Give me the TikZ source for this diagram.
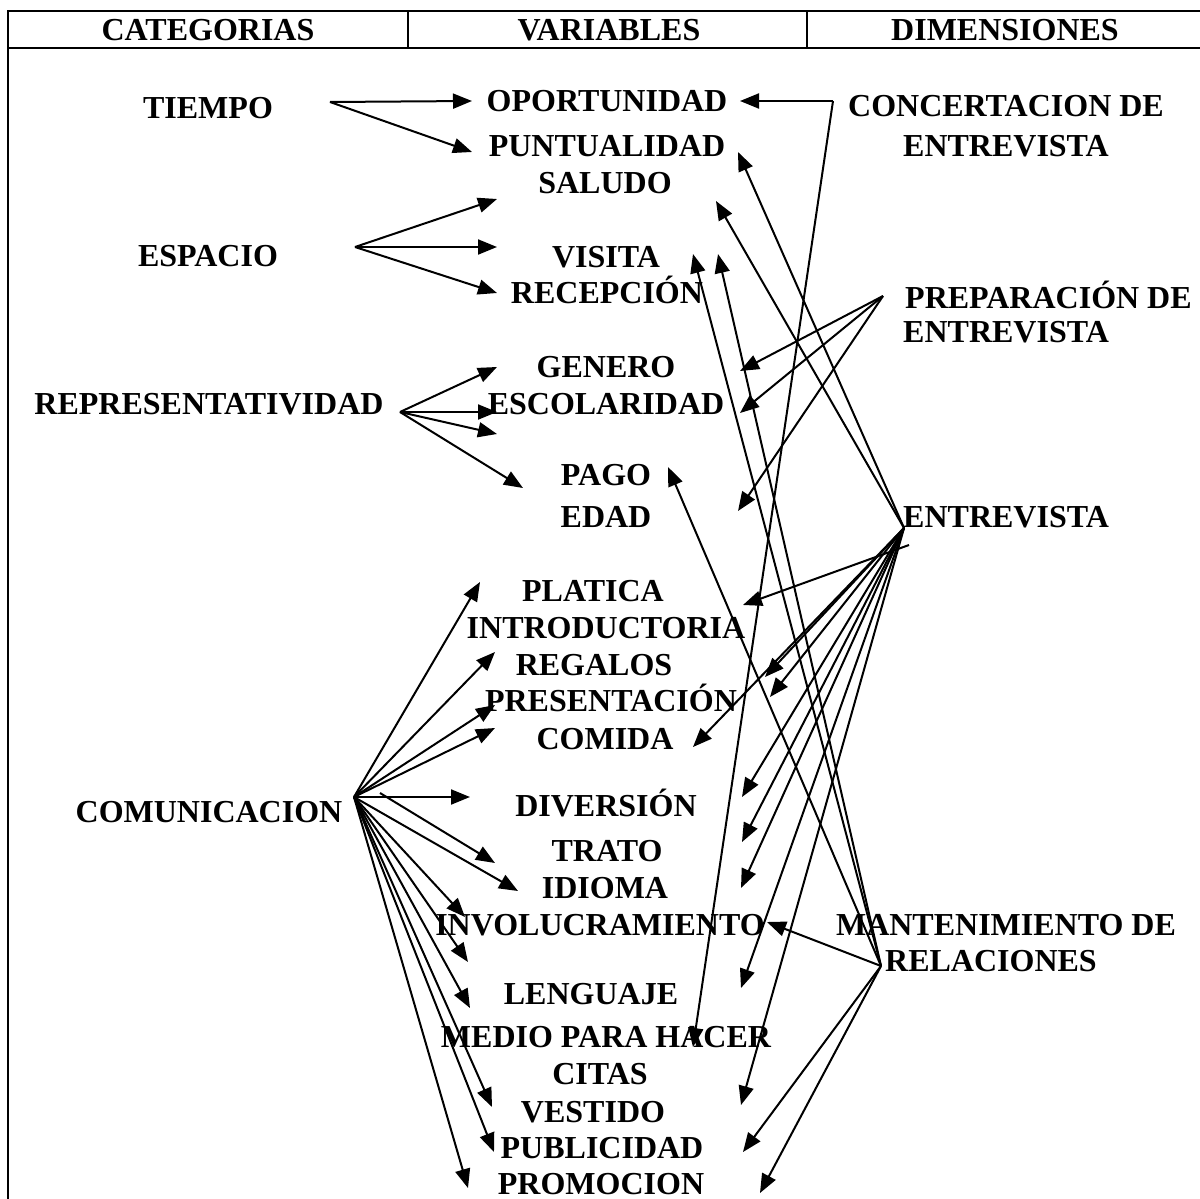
\documentclass[tikz,border=0pt]{standalone}
\usepackage{fontspec}
\setmainfont{Liberation Serif}
\usetikzlibrary{arrows.meta}

\begin{document}
\begin{tikzpicture}[x=1pt,y=-1pt,
  lbl/.style={font=\bfseries\fontsize{32}{36}\selectfont, inner sep=0pt, anchor=base},
  lblw/.style={lbl, anchor=base west},
  link/.style={line width=2pt, -{Triangle[length=19pt,width=15pt]}},
  rule/.style={line width=2.5pt}]

\useasboundingbox (0,0) rectangle (1200,1199);

% ---- table frame and header ----
\draw[rule] (8,1199) -- (8,11) -- (1200,11);
\draw[rule] (8,48) -- (1200,48);
\draw[rule] (408,11) -- (408,48);
\draw[rule] (807,11) -- (807,48);

\node[lbl] (hcat) at (208,41) {CATEGORIAS};
\node[lbl] (hvar) at (609,41) {VARIABLES};
\node[lbl] (hdim) at (1005,41) {DIMENSIONES};

% ---- categories ----
\node[lbl] (tiempo)  at (208,118) {TIEMPO};
\node[lbl] (espacio) at (208,266) {ESPACIO};
\node[lbl] (repr)    at (209,414) {REPRESENTATIVIDAD};
\node[lbl] (comun)   at (209,822) {COMUNICACION};

% ---- variables ----
\node[lbl] (oport)    at (607,111)  {OPORTUNIDAD};
\node[lbl] (puntu)    at (607,156)  {PUNTUALIDAD};
\node[lbl] (saludo)   at (605,193)  {SALUDO};
\node[lbl] (visita)   at (606,267)  {VISITA};
\node[lbl] (recep)    at (607,303)  {RECEPCIÓN};
\node[lbl] (genero)   at (606,377)  {GENERO};
\node[lbl] (escol)    at (606,414)  {ESCOLARIDAD};
\node[lbl] (pago)     at (606,485)  {PAGO};
\node[lbl] (edad)     at (606,527)  {EDAD};
\node[lbl] (platica)  at (593,601)  {PLATICA};
\node[lbl] (intro)    at (606,638)  {INTRODUCTORIA};
\node[lbl] (regalos)  at (594,675)  {REGALOS};
\node[lbl] (present)  at (611,711)  {PRESENTACIÓN};
\node[lbl] (comida)   at (605,749)  {COMIDA};
\node[lbl] (divers)   at (606,816)  {DIVERSIÓN};
\node[lbl] (trato)    at (607,861)  {TRATO};
\node[lbl] (idioma)   at (605,898)  {IDIOMA};
\node[lbl] (involu)   at (600,935)  {INVOLUCRAMIENTO};
\node[lbl] (lenguaje) at (591,1004) {LENGUAJE};
\node[lbl] (medio)    at (606,1047) {MEDIO PARA HACER};
\node[lbl] (citas)    at (600,1084) {CITAS};
\node[lbl] (vestido)  at (593,1122) {VESTIDO};
\node[lbl] (public)   at (602,1158) {PUBLICIDAD};
\node[lbl] (promo)    at (601,1194) {PROMOCION};

% ---- dimensions ----
\node[lbl]  (conc1)  at (1006,117) {CONCERTACION DE};
\node[lbl]  (conc2)  at (1006,156) {ENTREVISTA};
\node[lblw] (prep1)  at (905,308)  {PREPARACIÓN DE};
\node[lblw] (prep2)  at (903,342)  {ENTREVISTA};
\node[lblw] (entrev) at (903,527)  {ENTREVISTA};
\node[lbl]  (mant1)  at (1006,935) {MANTENIMIENTO DE};
\node[lbl]  (mant2)  at (991,971)  {RELACIONES};

% ---- connector hubs ----
\coordinate (hT)   at (330,102);
\coordinate (hE)   at (355,247);
\coordinate (hR)   at (400,412);
\coordinate (hC)   at (354,797);
\coordinate (hC2)  at (380,793);
\coordinate (hCE)  at (833,101);
\coordinate (hPE)  at (883,296);
\coordinate (hEN)  at (904,528);
\coordinate (hEN2) at (909,545);
\coordinate (hM)   at (881,966);

% ---- arrow tips ----
\coordinate (tT1) at (472,101);
\coordinate (tT2) at (472,152);
\coordinate (tE1) at (497,199);
\coordinate (tE2) at (497,247);
\coordinate (tE3) at (497,293);
\coordinate (tR1) at (497,367);
\coordinate (tR2) at (497,412);
\coordinate (tR3) at (497,434);
\coordinate (tR4) at (523,488);
\coordinate (tC1) at (480,582);
\coordinate (tC2) at (495,652);
\coordinate (tC3) at (495,705);
\coordinate (tC4) at (495,728);
\coordinate (tC5) at (470,797);
\coordinate (tC6) at (495,863);
\coordinate (tC7) at (518,891);
\coordinate (tC8) at (465,917);
\coordinate (tC9) at (468,962);
\coordinate (tC10) at (470,1008);
\coordinate (tC11) at (492,1107);
\coordinate (tC12) at (494,1152);
\coordinate (tC13) at (468,1188);
\coordinate (tCE1) at (740,101);
\coordinate (tCE2) at (693,1047);
\coordinate (tPE1) at (740,371);
\coordinate (tPE2) at (740,413);
\coordinate (tPE3) at (738,511);
\coordinate (tEN1) at (738,152);
\coordinate (tEN2) at (716,201);
\coordinate (tEN3) at (743,605);
\coordinate (tEN4) at (765,677);
\coordinate (tEN5) at (770,697);
\coordinate (tEN6) at (693,747);
\coordinate (tEN7) at (742,797);
\coordinate (tEN8) at (742,842);
\coordinate (tEN9) at (741,888);
\coordinate (tEN10) at (741,988);
\coordinate (tEN11) at (741,1105);
\coordinate (tM1) at (693,254);
\coordinate (tM2) at (718,254);
\coordinate (tM3) at (668,467);
\coordinate (tM4) at (767,922);
\coordinate (tM5) at (743,1152);
\coordinate (tM6) at (760,1193);

% ---- connectors ----
\foreach \t in {tT1,tT2} \draw[link] (hT) -- (\t);
\foreach \t in {tE1,tE2,tE3} \draw[link] (hE) -- (\t);
\foreach \t in {tR1,tR2,tR3,tR4} \draw[link] (hR) -- (\t);
\foreach \t in {tC1,tC2,tC3,tC4,tC5,tC7,tC8,tC9,tC10,tC11,tC12,tC13} \draw[link] (hC) -- (\t);
\draw[link] (hC2) -- (tC6);
\foreach \t in {tCE1,tCE2} \draw[link] (hCE) -- (\t);
\foreach \t in {tPE1,tPE2,tPE3} \draw[link] (hPE) -- (\t);
\foreach \t in {tEN1,tEN2,tEN4,tEN5,tEN6,tEN7,tEN8,tEN9,tEN10,tEN11} \draw[link] (hEN) -- (\t);
\draw[link] (hEN2) -- (tEN3);
\foreach \t in {tM1,tM2,tM3,tM4,tM5,tM6} \draw[link] (hM) -- (\t);

\end{tikzpicture}
\end{document}
